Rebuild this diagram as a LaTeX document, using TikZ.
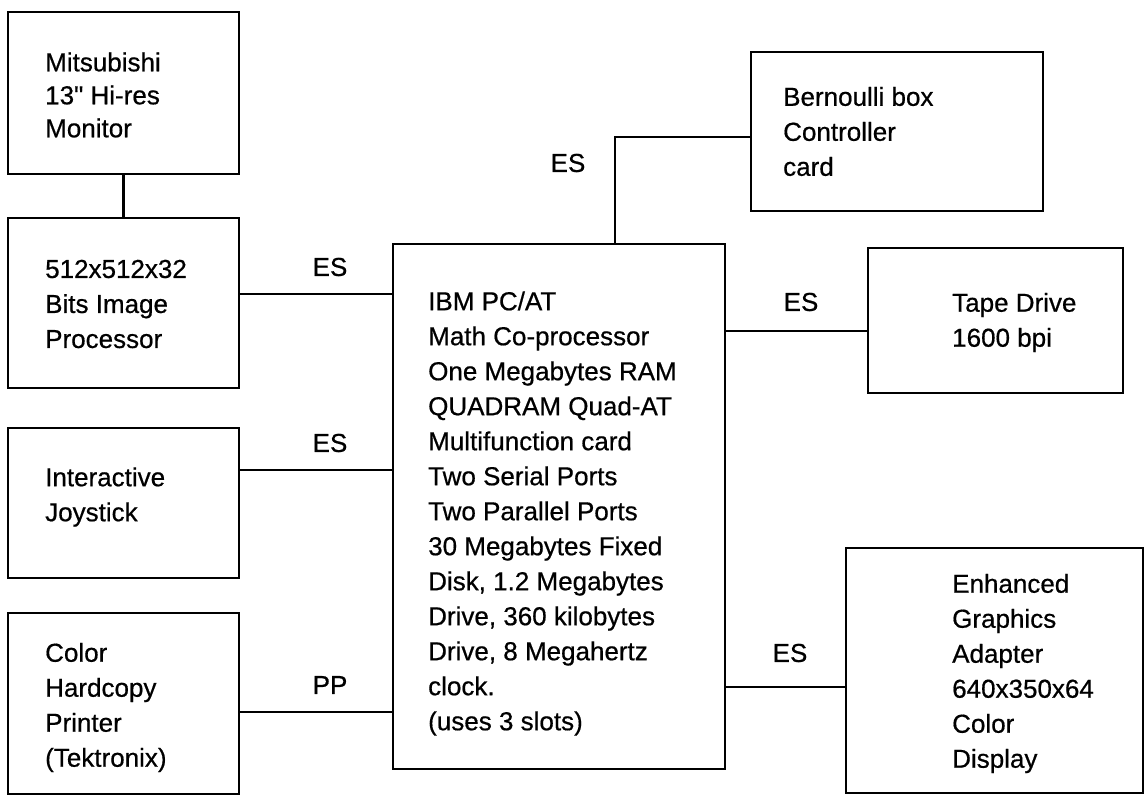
\documentclass[tikz,border=0pt]{standalone}
\usepackage{fontspec}
\setmainfont{Liberation Sans}[FakeBold=0.6]
\newfontfamily\plainq{Liberation Sans}[Ligatures=TeXOff,FakeBold=0.6]
\begin{document}
\begin{tikzpicture}[x=1pt,y=-1pt,
  box/.style={draw, line width=2.6pt, inner sep=0pt, outer sep=0pt},
  txt/.style={anchor=west, align=left, inner sep=0pt, font=\fontsize{26}{35}\selectfont},
  lbl/.style={inner sep=0pt, font=\fontsize{26}{35}\selectfont},
  wire/.style={line width=2.4pt}]
\useasboundingbox (0,0) rectangle (1148,796);
% boxes
\node[box, minimum width=231pt, minimum height=162pt] (mon)  at (123.5,93) {};
\node[box, minimum width=231pt, minimum height=170pt] (proc) at (123.5,303) {};
\node[box, minimum width=231pt, minimum height=150pt] (joy)  at (123.5,503) {};
\node[box, minimum width=231pt, minimum height=181pt] (prn)  at (123.5,703.5) {};
\node[box, minimum width=332pt, minimum height=525pt] (pc)   at (559,506.5) {};
\node[box, minimum width=292pt, minimum height=159pt] (bern) at (897,131.5) {};
\node[box, minimum width=255pt, minimum height=145pt] (tape) at (995.5,320.5) {};
\node[box, minimum width=297pt, minimum height=245pt] (ega)  at (994.5,670.5) {};
% texts
\node[txt, font=\fontsize{26}{33}\selectfont] (mon-t)  at ([xshift=37pt,yshift=-2pt]mon.west) {Mitsubishi\\13{\plainq"} Hi-res\\Monitor};
\node[txt] (proc-t) at ([xshift=37pt,yshift=-1pt]proc.west) {512x512x32\\Bits Image\\Processor};
\node[txt] (joy-t)  at ([xshift=37pt,yshift=6pt]joy.west) {Interactive\\Joystick};
\node[txt] (prn-t)  at ([xshift=37pt,yshift=-4pt]prn.west) {Color\\Hardcopy\\Printer\\(Tektronix)};
\node[txt] (pc-t)   at ([xshift=35pt,yshift=-7pt]pc.west) {IBM PC/AT\\Math Co-processor\\One Megabytes RAM\\QUADRAM Quad-AT\\Multifunction card\\Two Serial Ports\\Two Parallel Ports\\30 Megabytes Fixed\\Disk, 1.2 Megabytes\\Drive, 360 kilobytes\\Drive, 8 Megahertz\\clock.\\(uses 3 slots)};
\node[txt] (bern-t) at ([xshift=32pt]bern.west) {Bernoulli box\\Controller\\card};
\node[txt] (tape-t) at ([xshift=84pt,yshift=-2pt]tape.west) {Tape Drive\\1600 bpi};
\node[txt] (ega-t)  at ([xshift=106pt,yshift=-3pt]ega.west) {Enhanced\\Graphics\\Adapter\\640x350x64\\Color\\Display};
% connectors
\draw[wire] (mon.south) -- (proc.north);
\draw[wire] ([yshift=9pt]proc.east) coordinate (c1) -- (c1 -| pc.west);
\draw[wire] ([yshift=33pt]joy.east) coordinate (c2) -- (c2 -| pc.west);
\draw[wire] ([yshift=-8.5pt]prn.east) coordinate (c3) -- (c3 -| pc.west);
\draw[wire] ([xshift=56pt]pc.north) |- ([yshift=-5.5pt]bern.west);
\draw[wire] ([yshift=-10.5pt]tape.west) coordinate (c5) -- (c5 -| pc.east);
\draw[wire] ([yshift=-16.5pt]ega.west) coordinate (c6) -- (c6 -| pc.east);
% labels
\node[lbl] (l1) at (330,267) {ES};
\node[lbl] (l2) at (330,443) {ES};
\node[lbl] (l3) at (330,685) {PP};
\node[lbl] (l4) at (568,163) {ES};
\node[lbl] (l5) at (801,302) {ES};
\node[lbl] (l6) at (790,653) {ES};
\end{tikzpicture}
\end{document}
